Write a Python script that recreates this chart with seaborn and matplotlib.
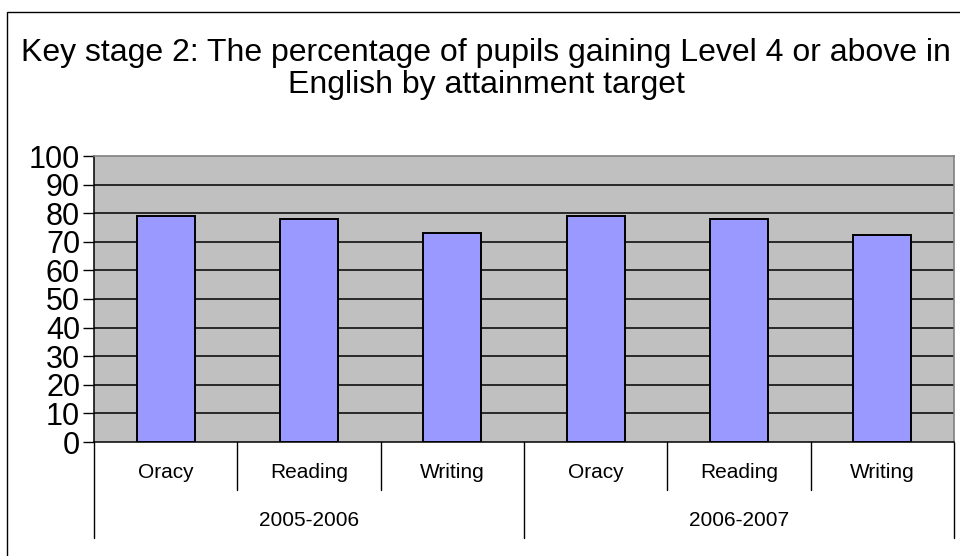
import matplotlib
matplotlib.use("Agg")
import matplotlib.pyplot as plt
import matplotlib.transforms as mtransforms
from matplotlib.patches import Rectangle
import seaborn as sns
import pandas as pd

years = ["2005-2006", "2006-2007"]
targets = ["Oracy", "Reading", "Writing"]
pct_2005_2006 = [79, 78, 73]
pct_2006_2007 = [79, 78, 72.5]
yticks = [0, 10, 20, 30, 40, 50, 60, 70, 80, 90, 100]

df = pd.DataFrame({
    "year": [y for y in years for _ in targets],
    "target": targets * len(years),
    "pct": pct_2005_2006 + pct_2006_2007,
})
df["key"] = df["year"] + " " + df["target"]

sns.set_theme(style="white")
plt.rcParams["font.family"] = ["Liberation Sans", "DejaVu Sans"]
plt.rcParams["text.color"] = "black"
plt.rcParams["ytick.color"] = "black"
plt.rcParams["xtick.color"] = "black"
plt.rcParams["ytick.labelcolor"] = "black"

W, H = 960, 556
fig = plt.figure(figsize=(W / 100, H / 100), dpi=100)
ax = fig.add_axes([94 / W, 1 - 442 / H, 860 / W, 286 / H])
ax.set_facecolor("#C0C0C0")

sns.barplot(data=df, x="key", y="pct", order=list(df["key"]), color="#9999FF",
            saturation=1, edgecolor="black", linewidth=1.4, width=0.405, ax=ax,
            zorder=3)

ax.set_ylim(0, 100)
ax.set_xlim(-0.5, len(df) - 0.5)
ax.set_yticks(yticks)
ax.set_yticklabels([str(v) for v in yticks], fontsize=22, color="black")
ax.tick_params(axis="y", direction="out", length=8, width=1, color="black",
               pad=2, left=True)
ax.tick_params(axis="x", length=0, labelbottom=False)
ax.set_xlabel("")
ax.set_ylabel("")

# horizontal gridlines
for v in yticks[1:-1]:
    ax.axhline(v, color="black", lw=1.1, zorder=1)

for side in ["top", "right"]:
    ax.spines[side].set_color("#808080")
    ax.spines[side].set_linewidth(1.2)
for side in ["left", "bottom"]:
    ax.spines[side].set_color("black")
    ax.spines[side].set_linewidth(1.1)

# two-level category axis below the plot
trans = mtransforms.blended_transform_factory(ax.transData, ax.transAxes)
px = 1 / 286
inner_drop = 48 * px
outer_drop = 96 * px
n = len(targets)
for i in range(len(df) + 1):
    xb = i - 0.5
    drop = outer_drop if i % n == 0 else inner_drop
    ax.plot([xb, xb], [0, -drop], transform=trans, color="black", lw=1,
            clip_on=False)

for i, row in df.iterrows():
    ax.text(i, -31 * px, row["target"], transform=trans, ha="center",
            va="center", fontsize=15, color="black")
for j, yr in enumerate(years):
    ax.text(j * n + (n - 1) / 2, -79 * px, yr, transform=trans, ha="center",
            va="center", fontsize=15, color="black")

# chart title
fig.text(486 / W, 1 - 61 / H,
         "Key stage 2: The percentage of pupils gaining Level 4 or above in",
         ha="center", va="baseline", fontsize=23, color="black")
fig.text(486 / W, 1 - 93 / H, "English by attainment target",
         ha="center", va="baseline", fontsize=23, color="black")

# outer chart frame
fig.patches.append(Rectangle((7 / W, -0.1), 1.2, 1 - 12 / H + 0.1,
                             transform=fig.transFigure, fill=False,
                             edgecolor="black", lw=1))

fig.savefig("out.png", dpi=100, facecolor="white")
